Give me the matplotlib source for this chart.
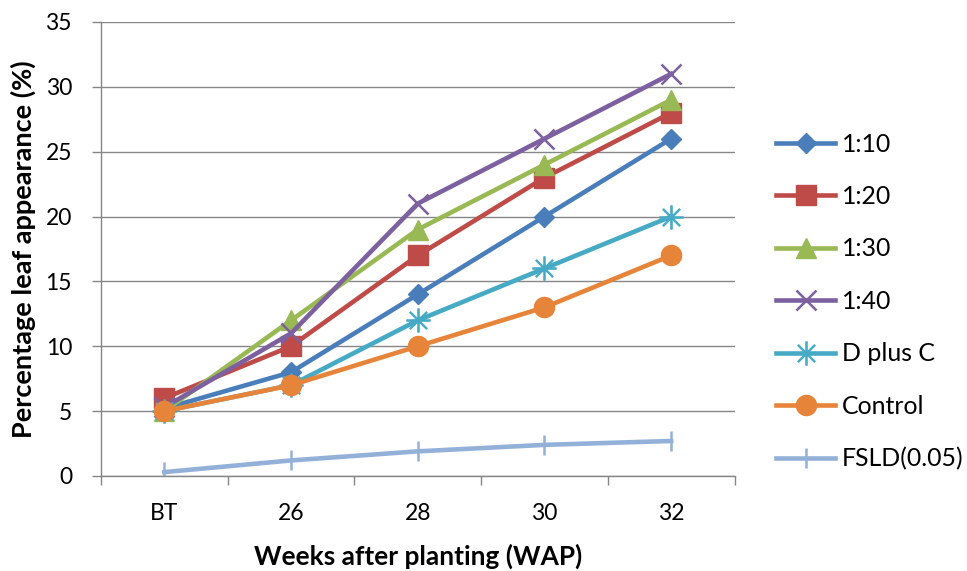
import matplotlib
matplotlib.use("Agg")
import matplotlib.pyplot as plt
from matplotlib.ticker import MultipleLocator, FixedLocator

categories = ["BT", "26", "28", "30", "32"]
s_110 = [5.2, 8, 14, 20, 26]
s_120 = [6, 10, 17, 23, 28]
s_130 = [5, 12, 19, 24, 29]
s_140 = [5.3, 11, 21, 26, 31]
s_dpc = [5, 7, 12, 16, 20]
s_ctrl = [5, 7, 10, 13, 17]
s_fsld = [0.3, 1.2, 1.9, 2.4, 2.7]
series_names = ["1:10", "1:20", "1:30", "1:40", "D plus C", "Control", "FSLD(0.05)"]
x_title = "Weeks after planting (WAP)"
y_title = "Percentage leaf appearance (%)"

plt.rcParams['font.family'] = ['Lato', 'DejaVu Sans']

W, H = 967, 571
fig = plt.figure(figsize=(W / 100, H / 100), dpi=100)
AX_L, AX_R, AX_T, AX_B = 101, 734.5, 22, 476
ax = fig.add_axes([AX_L / W, 1 - AX_B / H, (AX_R - AX_L) / W, (AX_B - AX_T) / H])

x = list(range(len(categories)))
styles = [
    ("#4A7EBB", "D", 10.5),
    ("#BE4B48", "s", 14),
    ("#98B954", "^", 15),
    ("#7D60A0", "x", 14),
    ("#46AAC5", "$\u2733$", 17),
    ("#E6843A", "o", 14.5),
    ("#93B1D8", "|", 15),
]
data = [s_110, s_120, s_130, s_140, s_dpc, s_ctrl, s_fsld]
for name, vals, (col, mk, ms) in zip(series_names, data, styles):
    kw = dict(color=col, lw=3.3, marker=mk, markersize=ms, label=name,
              markerfacecolor=col, markeredgecolor=col)
    if mk in ("x", "|"):
        kw["markeredgewidth"] = 1.8
    elif mk.startswith("$"):
        kw["markeredgewidth"] = 0.6
    ax.plot(x, vals, **kw)

ax.set_xlim(-0.5, len(categories) - 0.5)
ax.set_ylim(0, 35)
ax.yaxis.set_major_locator(MultipleLocator(5))
ax.set_xticks(x)
ax.set_xticklabels(categories)
ax.xaxis.set_minor_locator(FixedLocator([i + 0.5 for i in range(-1, len(categories))]))
TICK_FS = 16.5
ax.tick_params(axis='x', which='major', length=0, labelsize=TICK_FS, pad=16)
ax.tick_params(axis='x', which='minor', length=6.5, color='#868686', width=1)
ax.tick_params(axis='y', length=6.5, color='#868686', width=1, labelsize=TICK_FS, pad=14)
ax.grid(axis='y', color='#868686', lw=1)
ax.set_axisbelow(True)
for s in ['top', 'right']:
    ax.spines[s].set_visible(False)
for s in ['left', 'bottom']:
    ax.spines[s].set_color('#868686')
    ax.spines[s].set_linewidth(1)

ylab = ax.set_ylabel(y_title, fontsize=17, fontweight='bold')
xlab = ax.set_xlabel(x_title, fontsize=17, fontweight='bold')

r = fig.canvas.get_renderer()


def fit(t, target, dim):
    for _ in range(3):
        bb = t.get_window_extent(r)
        cur = bb.height if dim == 'h' else bb.width
        t.set_fontsize(t.get_fontsize() * target / cur)


fit(ylab, 377, 'h')
fit(xlab, 327, 'w')
ylab.set_va('center'); ylab.set_ha('center')
xlab.set_va('center'); xlab.set_ha('center')
ax.yaxis.set_label_coords((23 - AX_L) / (AX_R - AX_L), 0.5)
ax.xaxis.set_label_coords(0.5, -(556 - AX_B) / (AX_B - AX_T))

# x tick label centre at ~513 px
fig.canvas.draw()
bb = ax.get_xticklabels()[0].get_window_extent(r)
cy = H - (bb.y0 + bb.y1) / 2
ax.tick_params(axis='x', which='major', pad=16 + (513 - cy) * 72 / 100)
# y tick labels right edge ~72 px
fig.canvas.draw()
bb = ax.get_yticklabels()[-1].get_window_extent(r)
ax.tick_params(axis='y', pad=14 + (bb.x1 - 72) * 72 / 100)


def make_legend(fs, ls, anchor):
    fpx = fs * 100 / 72
    return fig.legend(loc='upper left', bbox_to_anchor=anchor, frameon=False,
                      fontsize=fs, labelspacing=ls, handlelength=59 / fpx,
                      handletextpad=7 / fpx, borderaxespad=0)


anchor0 = (770 / W, 1 - 126 / H)
LEG_FS = 17
leg = make_legend(LEG_FS, 1.3, anchor0)
fig.canvas.draw()
LEG_FS *= 122 / leg.get_texts()[-1].get_window_extent(r).width
leg.remove()
fs_px = LEG_FS * 100 / 72
ls = 1.3
for _ in range(3):
    leg = make_legend(LEG_FS, ls, anchor0)
    fig.canvas.draw()
    ts = leg.get_texts()
    b0 = ts[0].get_window_extent(r)
    b6 = ts[-1].get_window_extent(r)
    spacing = ((b0.y0 + b0.y1) / 2 - (b6.y0 + b6.y1) / 2) / 6
    ls += (52.5 - spacing) / fs_px
    leg.remove()
leg = make_legend(LEG_FS, ls, anchor0)
fig.canvas.draw()
b0 = leg.get_texts()[0].get_window_extent(r)
dx = 842 - b0.x0
dy = (H - (b0.y0 + b0.y1) / 2) - 144
leg.set_bbox_to_anchor(((770 + dx) / W, 1 - (126 - dy) / H), transform=fig.transFigure)

fig.savefig("out.png", dpi=100)
